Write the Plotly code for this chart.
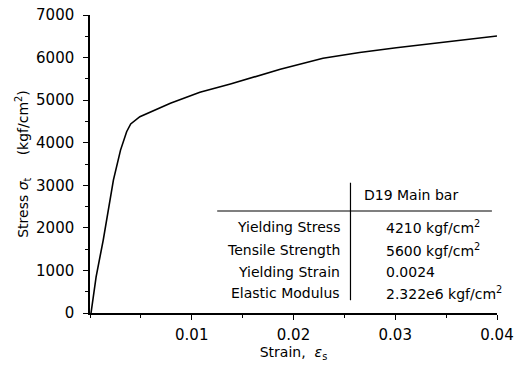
import plotly.graph_objects as go

# Stress-strain curve
strain = [0.0001, 0.0006, 0.0013, 0.0023, 0.0030, 0.0036, 0.0040, 0.0043, 0.0049, 0.0079,
          0.0108, 0.0138, 0.0167, 0.0187, 0.0229, 0.0265, 0.0301, 0.0340, 0.0377, 0.0400]
stress = [0, 850, 1714, 3120, 3826, 4259, 4440, 4494, 4612, 4926,
          5184, 5379, 5591, 5725, 5983, 6120, 6232, 6340, 6436, 6507]

x_ticks = [0.01, 0.02, 0.03, 0.04]
x_ticklabels = ["0.01", "0.02", "0.03", "0.04"]
y_ticks = [0, 1000, 2000, 3000, 4000, 5000, 6000, 7000]

table_header = "D19 Main bar"
table_labels = ["Yielding Stress", "Tensile Strength", "Yielding Strain", "Elastic Modulus"]
table_values = ["4210 kgf/cm<sup>2</sup>", "5600 kgf/cm<sup>2</sup>", "0.0024",
                "2.322e6 kgf/cm<sup>2</sup>"]

FONT = "DejaVu Sans, Liberation Sans, Arial"

fig = go.Figure()
fig.add_trace(go.Scatter(x=strain, y=stress, mode="lines",
                         line=dict(color="black", width=1.6), showlegend=False))

# table lines (data coords)
fig.add_shape(type="line", xref="x", yref="y", x0=0.0125, x1=0.0395, y0=2396, y1=2396,
              line=dict(color="black", width=1.2))
fig.add_shape(type="line", xref="x", yref="y", x0=0.0256, x1=0.0256, y0=300, y1=3060,
              line=dict(color="black", width=1.2))

fig.add_annotation(x=0.0267, y=2772, xref="x", yref="y", text=table_header, showarrow=False,
                   xanchor="left", yanchor="middle", font=dict(size=14, color="black", family=FONT))
row_y = [2020, 1480, 963, 470]
for lab, val, yy in zip(table_labels, table_values, row_y):
    fig.add_annotation(x=0.0248, y=yy, xref="x", yref="y", text=lab, showarrow=False,
                       xanchor="right", yanchor="middle",
                       font=dict(size=14, color="black", family=FONT))
    fig.add_annotation(x=0.0289, y=yy, xref="x", yref="y", text=val, showarrow=False,
                       xanchor="left", yanchor="middle",
                       font=dict(size=14, color="black", family=FONT))

fig.update_layout(
    width=518, height=365,
    margin=dict(l=90, r=21, t=15, b=52, autoexpand=False),
    paper_bgcolor="white", plot_bgcolor="white",
    font=dict(family=FONT, size=13, color="black"),
)
fig.update_xaxes(range=[0, 0.04], tickvals=x_ticks, ticktext=x_ticklabels, automargin=False,
                 showgrid=False, zeroline=False, showline=True, linecolor="black", linewidth=1.5,
                 ticks="outside", ticklen=5, tickwidth=1.2, tickcolor="black",
                 minor=dict(dtick=0.005, ticks="outside", ticklen=3, tickcolor="black", showgrid=False),
                 title=dict(text="Strain,  <i>ε</i><sub>s</sub>", font=dict(size=14), standoff=4),
                 tickfont=dict(size=15), ticklabelstandoff=2, ticklabeloverflow="allow")
fig.update_yaxes(range=[0, 7000], tickvals=y_ticks, automargin=False,
                 showgrid=False, zeroline=False, showline=True, linecolor="black", linewidth=1.5,
                 ticks="outside", ticklen=5, tickwidth=1.2, tickcolor="black",
                 minor=dict(dtick=500, ticks="outside", ticklen=3, tickcolor="black", showgrid=False),
                 title=dict(text="Stress <i>σ</i><sub>t</sub>     (kgf/cm<sup>2</sup>)", font=dict(size=14), standoff=4),
                 tickfont=dict(size=15), ticklabelstandoff=6, ticklabeloverflow="allow")

fig.write_html("out.html", config={"displayModeBar": False},
               post_script="document.body.style.margin='0';document.body.style.overflow='hidden';")
